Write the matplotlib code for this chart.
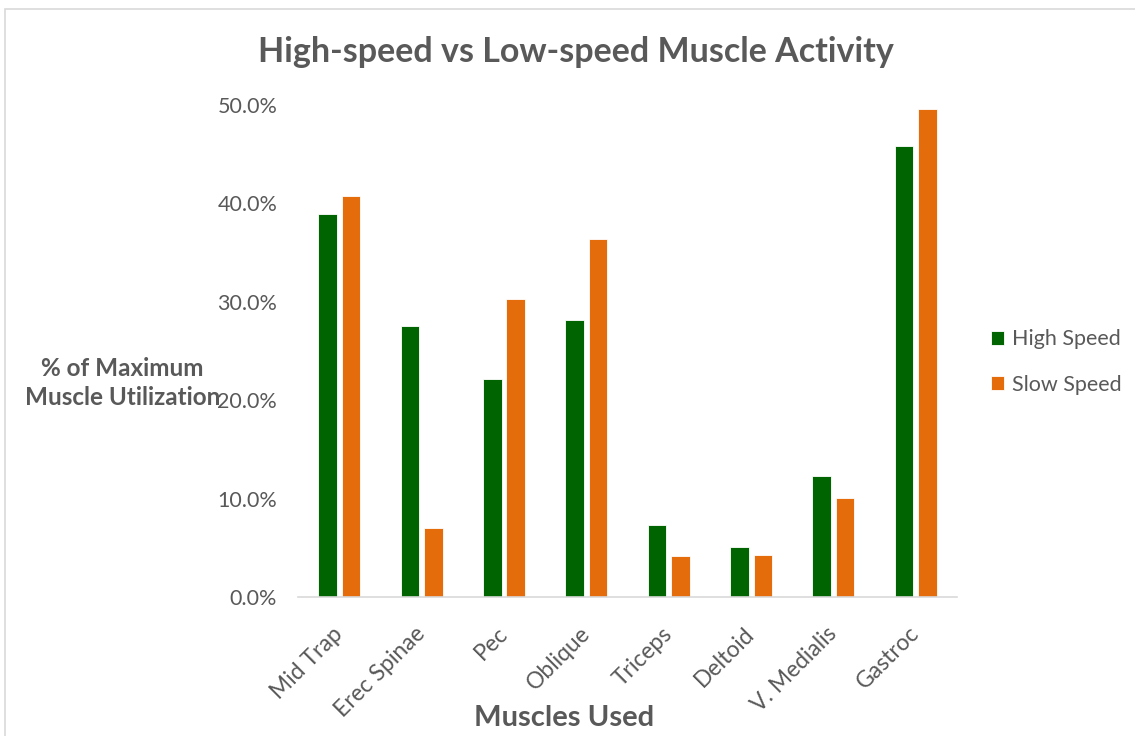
import matplotlib.pyplot as plt
import numpy as np
from matplotlib.patches import Rectangle
from matplotlib.ticker import PercentFormatter

# values (fraction of max)
muscles = ["Mid Trap", "Erec Spinae", "Pec", "Oblique", "Triceps", "Deltoid", "V. Medialis", "Gastroc"]
high_speed = [0.389, 0.275, 0.222, 0.281, 0.073, 0.051, 0.123, 0.458]
slow_speed = [0.407, 0.070, 0.303, 0.364, 0.042, 0.043, 0.101, 0.496]
series_names = ["High Speed", "Slow Speed"]

GREEN = "#006400"
ORANGE = "#E46C0A"
TEXT = "#595959"

plt.rcParams["font.family"] = ["Lato", "DejaVu Sans"]

fig = plt.figure(figsize=(11.35, 7.36), dpi=100)
ax = fig.add_axes([0.2626, 0.1889, 0.5806, 0.6685])

x = np.arange(len(muscles))
width = 0.225
off = 0.1425
ax.bar(x - off, high_speed, width, color=GREEN, edgecolor="white", linewidth=0.6, label=series_names[0])
ax.bar(x + off, slow_speed, width, color=ORANGE, edgecolor="white", linewidth=0.6, label=series_names[1])

ax.set_xlim(-0.5, len(muscles) - 0.5)
ax.set_ylim(0, 0.5)
ax.set_yticks(np.arange(0, 0.51, 0.1))
ax.yaxis.set_major_formatter(PercentFormatter(1.0, decimals=1))
ax.set_xticks(x)
ax.set_xticklabels(muscles, rotation=45, ha="right", va="center", rotation_mode="anchor")

for s in ["top", "right", "left"]:
    ax.spines[s].set_visible(False)
ax.spines["bottom"].set_color("#d9d9d9")
ax.spines["bottom"].set_linewidth(1.2)
ax.tick_params(axis="both", length=0, labelsize=15.5, labelcolor=TEXT)
ax.tick_params(axis="x", labelsize=16.5, pad=24)
ax.tick_params(axis="y", pad=15)

fig.text(0.507, 0.929, "High-speed vs Low-speed Muscle Activity", ha="center", va="center",
         fontsize=24.5, fontweight="bold", color=TEXT)
fig.text(0.108, 0.48, "% of Maximum\nMuscle Utilization", ha="center", va="center",
         fontsize=17.5, fontweight="bold", color=TEXT, linespacing=1.3)
fig.text(0.497, 0.024, "Muscles Used", ha="center", va="center",
         fontsize=21, fontweight="bold", color=TEXT)

leg = fig.legend(loc="center left", bbox_to_anchor=(0.873, 0.508), frameon=False,
                 fontsize=15.5, handlelength=0.62, handleheight=0.62, handletextpad=0.35,
                 labelspacing=1.2, labelcolor=TEXT, borderpad=0, borderaxespad=0)

# outer chart border
fig.patches.append(Rectangle((0.004, -0.05), 1.2, 0.988 + 0.05, transform=fig.transFigure,
                             fill=False, edgecolor="#d9d9d9", linewidth=1.2))

fig.savefig("out.png", dpi=100)
